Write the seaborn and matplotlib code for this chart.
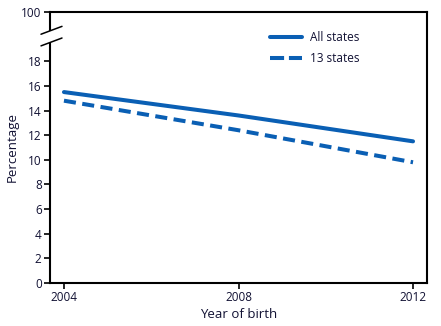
import matplotlib
matplotlib.use("Agg")
import matplotlib.pyplot as plt
import seaborn as sns
import pandas as pd
from matplotlib.lines import Line2D

years = [2004, 2008, 2012]
all_states = [15.5, 13.6, 11.5]
thirteen_states = [14.8, 12.4, 9.8]
series_names = ["All states", "13 states"]
ytick_vals = [0, 2, 4, 6, 8, 10, 12, 14, 16, 18, 22]
ytick_labels = ["0", "2", "4", "6", "8", "10", "12", "14", "16", "18", "100"]

df = pd.DataFrame({
    "year": years * 2,
    "pct": all_states + thirteen_states,
    "series": [series_names[0]] * 3 + [series_names[1]] * 3,
})

sns.set_style("white")
plt.rcParams["font.family"] = ["Open Sans", "DejaVu Sans"]

fig = plt.figure(figsize=(4.41, 3.26), dpi=100)
ax = fig.add_axes([50 / 441, 1 - 283 / 326, 377 / 441, 271 / 326])

blue = "#0a5fb4"
sns.lineplot(data=df, x="year", y="pct", style="series", ax=ax,
             color=blue, linewidth=2.9, legend=False,
             dashes={series_names[0]: "", series_names[1]: (3, 1.6)})

ax.set_xlim(2003.68, 2012.32)
ax.set_ylim(0, 22)
ax.set_xticks(years)
ax.set_xticklabels([str(y) for y in years], fontsize=8.5)
ax.set_yticks(ytick_vals)
ax.set_yticklabels(ytick_labels, fontsize=8.5)
ax.tick_params(axis="both", direction="out", length=4, width=1.2, color="black",
               left=True, bottom=True, pad=2, labelcolor="#111133")
for s in ax.spines.values():
    s.set_color("black")
    s.set_linewidth(1.5)

ax.set_xlabel("Year of birth", fontsize=9.5, color="#111133", labelpad=3)
ax.set_ylabel("Percentage", fontsize=9.5, color="#111133", labelpad=2)

# axis break
ax.add_patch(plt.Rectangle((-0.02, 0.889), 0.04, 0.041, transform=ax.transAxes,
                           facecolor="white", edgecolor="none", clip_on=False, zorder=5))
for y0 in (0.918, 0.875):
    ax.plot([-9 / 377, 12 / 377], [y0, y0 + 0.029], transform=ax.transAxes,
            color="black", lw=1.1, clip_on=False, zorder=6)

handles = [Line2D([0], [0], color=blue, lw=2.9),
           Line2D([0], [0], color=blue, lw=2.9, dashes=(3.5, 1.2))]
leg = ax.legend(handles, series_names, loc="upper left", bbox_to_anchor=(0.555, 0.97),
                frameon=False, fontsize=8.5, handlelength=2.7, handletextpad=0.7,
                labelspacing=0.7)
for t in leg.get_texts():
    t.set_color("#111133")

fig.savefig("out.png", dpi=100)
